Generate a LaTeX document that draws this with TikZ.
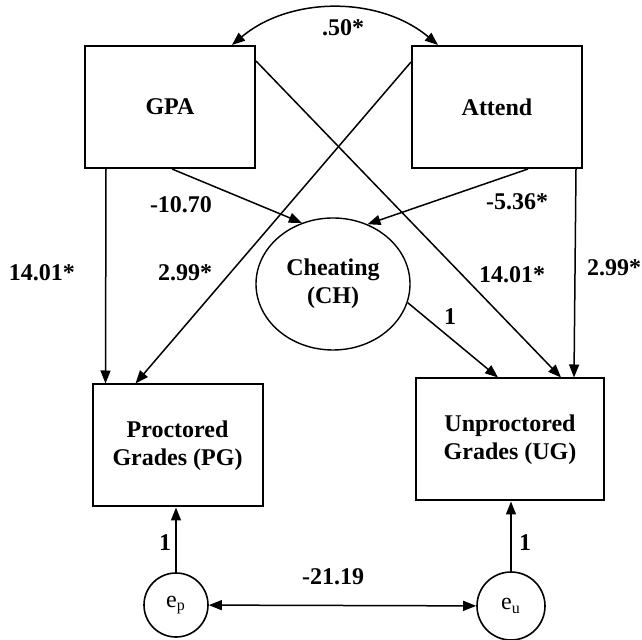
\documentclass[tikz,border=0pt]{standalone}
\usepackage{fontspec}
\setmainfont{Liberation Serif}
\usetikzlibrary{arrows.meta,shapes.geometric}
\begin{document}
\begin{tikzpicture}[x=0.5pt,y=-0.5pt,font=\bfseries\fontsize{12}{14}\selectfont]
			\tikzstyle{box}=[rectangle,draw=black,line width=1pt,minimum width=85pt,minimum height=61pt,align=center,inner sep=0pt]
			\tikzstyle{lat}=[ellipse,draw=black,line width=0.7pt,minimum width=77pt,minimum height=66pt,align=center,inner sep=0pt]
			\tikzstyle{err}=[circle,draw=black,line width=0.8pt,inner sep=0pt,font=\mdseries\fontsize{12}{14}\selectfont]
			\tikzstyle{coef}=[inner sep=1pt]
			\tikzstyle{tip}=[line width=0.75pt,-{Triangle[length=6.5pt,width=5pt]}]
			\tikzstyle{tips}=[line width=0.75pt,{Triangle[length=6.5pt,width=5pt]}-{Triangle[length=6.5pt,width=5pt]}]
			\useasboundingbox (0,0) rectangle (642,640);
			\begin{scope}
			\node[box] (gpa) at (170,107)   {GPA};
			\node[box] (att) at (497,107)   {Attend};
			\node[lat] (ch)  at (333,284)   {Cheating\\(CH)};
			\node[box] (pg)  at (177.5,445.5) {Proctored\\Grades (PG)};
			\node[box,minimum width=94pt] (ug) at (510,439.5) {Unproctored\\Grades (UG)};
			\node[err,minimum size=32pt] (ep) at (176,605) {e$_\mathrm{p}$};
			\node[err,minimum size=34pt] (eu) at (511,606) {e$_\mathrm{u}$};
			
			\node[coef] (w-cov)   at (343,28)  {.50*};
			\node[coef] (w-gpa-ch) at (181,205) {-10.70};
			\node[coef] (w-gpa-pg) at (42,273)  {14.01*};
			\node[coef] (w-att-pg) at (185,273) {2.99*};
			\node[coef] (w-att-ch) at (517,202) {-5.36*};
			\node[coef] (w-gpa-ug) at (512,275) {14.01*};
			\node[coef] (w-att-ug) at (614,268) {2.99*};
			\node[coef] (w-ch-ug)  at (450,317) {1};
			\node[coef] (w-ep)     at (165,543) {1};
			\node[coef] (w-eu)     at (525,543) {1};
			\node[coef] (w-err)    at (333,577) {-21.19};
			\end{scope}
			
			\path[tip]
			([xshift=11pt]gpa.south west) edge ([xshift=7pt]pg.north west)
			([xshift=44pt]gpa.south west) edge (ch.117)
			([yshift=-8pt]gpa.north east) edge ([xshift=73pt]ug.north west)
			
			([yshift=-8.5pt]att.north west) edge ([xshift=22pt]pg.north west)
			([xshift=58.5pt]att.south west) edge (ch.60)
			([xshift=-3.5pt]att.south east) edge ([xshift=79.5pt]ug.north west)
			
			(ch.-14) edge ([xshift=41.5pt]ug.north west)
			
			(ep.north) edge (ep.north |- pg.south)
			(eu.north) edge (eu.north |- ug.south)
			;
			
			\path[tips]
			(ep) edge (eu)
			([xshift=31pt]gpa.north) edge[out=40,in=140,looseness=0.95] ([xshift=-29.5pt]att.north)
			;
		\end{tikzpicture}
\end{document}
